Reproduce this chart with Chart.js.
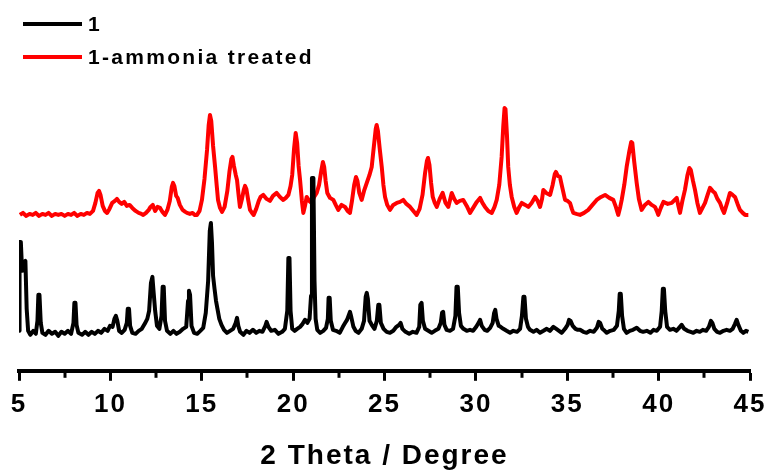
<!DOCTYPE html>
<html>
<head>
<meta charset="utf-8">
<script src="https://cdn.jsdelivr.net/npm/chart.js@4.4.1/dist/chart.umd.min.js"></script>
<style>
  html, body { margin: 0; padding: 0; background: #fff; }
  #wrap { width: 771px; height: 476px; }
</style>
</head>
<body>
<div id="wrap"><canvas id="c" width="771" height="476"></canvas></div>
<script>
// ---- Data (2θ in degrees, intensity in arbitrary units, stacked with offset) ----
const seriesLabels = ["1", "1-ammonia treated"];
const seriesColors = ["#000000", "#ff0000"];

const blackTheta = [5.00,5.03,5.10,5.17,5.25,5.35,5.42,5.50,5.62,5.78,5.92,6.01,6.06,6.12,6.19,6.28,6.45,6.62,6.80,6.98,7.15,7.32,7.50,7.68,7.85,7.98,8.03,8.09,8.15,8.25,8.45,8.62,8.80,8.98,9.15,9.32,9.50,9.68,9.85,9.98,10.12,10.22,10.30,10.38,10.48,10.62,10.78,10.90,10.95,11.02,11.08,11.20,11.38,11.55,11.72,11.88,12.02,12.12,12.22,12.30,12.36,12.45,12.55,12.68,12.80,12.86,12.92,12.99,13.10,13.28,13.45,13.62,13.80,13.98,14.15,14.25,14.30,14.36,14.44,14.58,14.75,14.92,15.08,15.22,15.35,15.44,15.50,15.56,15.62,15.70,15.78,15.86,15.96,16.08,16.22,16.38,16.55,16.72,16.86,16.93,17.00,17.10,17.28,17.45,17.62,17.80,17.98,18.15,18.32,18.48,18.55,18.65,18.80,19.00,19.20,19.40,19.55,19.68,19.74,19.80,19.86,19.95,20.08,20.22,20.38,20.52,20.65,20.78,20.90,20.98,21.03,21.11,21.17,21.23,21.32,21.48,21.65,21.80,21.90,21.94,22.00,22.06,22.18,22.35,22.55,22.72,22.85,22.95,23.05,23.11,23.18,23.30,23.42,23.58,23.75,23.88,23.97,24.03,24.09,24.18,24.30,24.45,24.58,24.66,24.72,24.80,24.95,25.12,25.30,25.48,25.65,25.80,25.88,25.98,26.15,26.35,26.55,26.75,26.90,26.96,27.03,27.10,27.22,27.40,27.58,27.75,27.95,28.08,28.15,28.21,28.28,28.40,28.58,28.75,28.88,28.94,29.01,29.08,29.18,29.32,29.50,29.68,29.85,30.02,30.15,30.23,30.32,30.48,30.62,30.78,30.92,31.00,31.06,31.13,31.25,31.35,31.50,31.68,31.87,32.05,32.25,32.42,32.52,32.60,32.66,32.74,32.85,32.96,33.15,33.32,33.51,33.70,33.88,34.05,34.24,34.40,34.55,34.70,34.88,35.02,35.10,35.18,35.30,35.45,35.58,35.70,35.88,36.06,36.25,36.45,36.62,36.72,36.80,36.92,37.05,37.16,37.35,37.55,37.72,37.82,37.87,37.93,38.00,38.10,38.25,38.42,38.60,38.80,38.98,39.15,39.35,39.55,39.72,39.90,40.08,40.17,40.23,40.29,40.36,40.46,40.62,40.80,40.98,41.12,41.26,41.40,41.58,41.75,41.90,42.08,42.25,42.42,42.60,42.75,42.86,42.94,43.05,43.20,43.36,43.55,43.72,43.90,44.05,44.18,44.27,44.36,44.50,44.63,44.78,44.91];
const blackIntensity = [40,129,129,100,108,110,62,40,36,40,37,50,76,76,48,38,36,40,37,39,35,39,37,40,37,48,68,68,46,38,36,39,36,39,37,40,38,42,40,45,44,52,55,50,40,38,41,48,62,62,45,38,37,40,42,47,52,60,88,94,80,60,45,42,55,84,84,50,40,37,40,37,39,42,44,70,80,76,45,38,37,40,43,58,90,140,148,128,95,82,70,62,52,46,41,38,40,42,48,53,45,39,36,40,38,41,38,40,39,45,49,44,40,41,37,39,42,60,113,113,60,42,40,42,44,47,51,48,52,75,193,193,90,52,41,38,40,43,52,73,73,50,41,40,38,44,48,51,56,59,54,44,40,38,42,50,74,78,72,50,46,42,50,66,66,48,42,39,38,40,44,46,48,42,39,37,39,38,44,66,68,50,42,40,38,40,42,48,58,59,46,41,40,42,55,84,84,58,45,42,40,41,40,44,48,51,45,41,40,43,48,58,61,52,45,44,42,40,38,40,39,42,55,74,74,52,44,41,39,41,38,40,42,40,44,42,40,38,42,46,51,50,45,42,41,41,39,38,40,39,43,49,48,42,40,38,40,41,45,60,77,77,55,42,38,40,41,43,40,39,40,38,41,40,44,60,82,82,60,44,41,42,40,43,46,42,40,39,38,40,39,41,40,44,50,48,42,39,38,40,41,40,42,47,51,46,40,38,40,39];

const redTheta = [5.05,5.22,5.40,5.58,5.75,5.92,6.10,6.28,6.45,6.62,6.80,6.98,7.15,7.32,7.50,7.68,7.85,8.02,8.20,8.38,8.55,8.72,8.88,9.05,9.18,9.30,9.38,9.46,9.58,9.70,9.82,9.95,10.10,10.25,10.36,10.48,10.62,10.76,10.90,11.05,11.20,11.38,11.55,11.70,11.80,11.95,12.10,12.20,12.32,12.45,12.58,12.72,12.85,12.99,13.12,13.25,13.36,13.43,13.50,13.60,13.68,13.80,13.95,14.10,14.19,14.35,14.50,14.62,14.74,14.88,15.01,15.15,15.29,15.38,15.45,15.52,15.62,15.73,15.82,15.89,16.00,16.11,16.25,16.40,16.52,16.62,16.68,16.76,16.86,16.93,17.02,17.09,17.20,17.30,17.37,17.44,17.55,17.64,17.75,17.84,17.98,18.12,18.22,18.37,18.55,18.73,18.90,19.10,19.28,19.46,19.60,19.74,19.86,19.95,20.05,20.14,20.22,20.30,20.38,20.48,20.56,20.65,20.74,20.88,21.01,21.15,21.29,21.42,21.54,21.63,21.70,21.78,21.87,22.02,22.20,22.33,22.47,22.65,22.84,22.98,23.11,23.22,23.34,23.44,23.52,23.62,23.75,23.88,24.03,24.18,24.30,24.42,24.52,24.57,24.64,24.74,24.85,24.94,25.03,25.15,25.30,25.48,25.67,25.85,26.03,26.20,26.40,26.58,26.76,26.92,27.08,27.22,27.32,27.38,27.46,27.55,27.64,27.75,27.86,28.02,28.18,28.34,28.49,28.60,28.68,28.82,28.95,29.12,29.31,29.50,29.68,29.85,30.05,30.23,30.36,30.50,30.68,30.87,31.02,31.14,31.28,31.41,31.50,31.57,31.62,31.70,31.77,31.86,31.96,32.10,32.23,32.38,32.51,32.70,32.87,33.05,33.24,33.38,33.51,33.62,33.69,33.85,34.06,34.20,34.32,34.38,34.48,34.60,34.72,34.88,35.02,35.15,35.25,35.33,35.50,35.70,35.92,36.15,36.38,36.61,36.85,37.07,37.30,37.52,37.66,37.79,37.90,37.98,38.12,38.25,38.40,38.50,38.56,38.66,38.80,38.92,39.07,39.25,39.44,39.62,39.80,39.90,39.98,40.12,40.26,40.50,40.72,40.88,40.99,41.08,41.17,41.30,41.44,41.58,41.68,41.76,41.88,41.99,42.12,42.26,42.40,42.54,42.68,42.81,42.95,43.08,43.22,43.36,43.48,43.58,43.75,43.90,44.05,44.18,44.32,44.45,44.60,44.73,44.91];
const redIntensity = [156,158,155,157,156,158,155,157,156,158,155,157,156,157,155,157,156,158,155,157,156,158,157,160,168,178,180,176,165,160,158,162,168,170,172,169,167,169,165,166,163,160,158,157,156,158,161,164,166,160,164,163,159,156,161,170,184,188,185,175,173,166,161,159,158,157,158,156,156,160,171,192,221,246,256,250,225,204,185,171,163,159,164,180,200,212,214,205,196,191,175,164,172,181,185,182,170,161,158,156,162,170,174,176,172,170,175,178,174,171,173,176,185,196,222,238,228,205,191,170,158,165,174,170,168,174,178,186,200,209,204,190,178,173,171,166,161,166,164,160,158,170,186,194,190,178,171,180,188,196,204,225,242,246,240,222,204,186,174,166,161,166,168,169,171,167,164,160,156,162,176,198,210,213,206,188,174,168,164,172,178,168,164,172,178,172,168,170,171,165,158,163,169,173,168,164,160,158,164,171,186,214,245,263,262,236,204,186,174,164,158,164,168,166,164,168,174,170,164,172,181,178,176,186,197,199,195,194,184,171,170,168,162,158,157,156,158,161,166,171,174,176,173,171,164,156,164,171,186,204,220,229,228,210,188,172,161,166,169,166,164,160,156,163,169,167,168,171,173,165,158,170,181,196,203,201,190,181,168,158,163,168,176,183,180,178,172,168,162,158,168,178,176,174,167,161,158,156,156];

const xMin = 5, xMax = 45;
const majorTicks = [5,10,15,20,25,30,35,40,45];
const minorTicks = [7.5,12.5,17.5,22.5,27.5,32.5,37.5,42.5];
const xTitle = "2 Theta / Degree";

const FONT = '"Liberation Sans", Arial, Helvetica, sans-serif';

function pairs(xs, ys) { return xs.map((x, i) => ({ x: x, y: ys[i] })); }

const spacingPlugin = {
  id: 'spacing',
  beforeDraw(chart) { chart.ctx.letterSpacing = '2px'; }
};

const minorTickPlugin = {
  id: 'minorTicks',
  afterDraw(chart) {
    const ctx = chart.ctx, sx = chart.scales.x, bottom = chart.chartArea.bottom;
    ctx.save();
    ctx.strokeStyle = '#000';
    ctx.lineWidth = 3;
    minorTicks.forEach(v => {
      const px = Math.round(sx.getPixelForValue(v));
      ctx.beginPath();
      ctx.moveTo(px, bottom);
      ctx.lineTo(px, bottom + 7);
      ctx.stroke();
    });
    ctx.restore();
  }
};

const legendPlugin = {
  id: 'customLegend',
  afterDraw(chart) {
    const ctx = chart.ctx;
    ctx.save();
    ctx.letterSpacing = '2.3px';
    ctx.font = 'bold 21px ' + FONT;
    ctx.textBaseline = 'middle';
    ctx.textAlign = 'left';
    const rows = [24, 57];
    chart.data.datasets.forEach((ds, i) => {
      const y = rows[i];
      ctx.strokeStyle = ds.borderColor;
      ctx.lineWidth = 4;
      ctx.beginPath();
      ctx.moveTo(23, y);
      ctx.lineTo(82, y);
      ctx.stroke();
      ctx.fillStyle = '#000';
      ctx.fillText(ds.label, 88, y + 1);
    });
    ctx.restore();
  }
};

new Chart(document.getElementById('c'), {
  type: 'line',
  data: {
    datasets: [
      { label: seriesLabels[0], data: pairs(blackTheta, blackIntensity), borderColor: seriesColors[0], borderWidth: 4, pointRadius: 0, tension: 0, borderJoinStyle: 'round', fill: false },
      { label: seriesLabels[1], data: pairs(redTheta, redIntensity), borderColor: seriesColors[1], borderWidth: 4, pointRadius: 0, tension: 0, borderJoinStyle: 'round', fill: false }
    ]
  },
  options: {
    responsive: false,
    devicePixelRatio: 1,
    animation: false,
    parsing: true,
    layout: { padding: { left: 19, right: 21, top: 71, bottom: 0 } },
    plugins: { legend: { display: false }, tooltip: { enabled: false } },
    scales: {
      x: {
        type: 'linear',
        min: xMin, max: xMax,
        afterBuildTicks(scale) { scale.ticks = majorTicks.map(v => ({ value: v })); },
        ticks: { color: '#000', font: { family: FONT, size: 26, weight: 'bold', lineHeight: 1.6 }, padding: 3, maxRotation: 0, autoSkip: false },
        grid: { display: true, drawOnChartArea: false, drawTicks: true, tickLength: 10, tickWidth: 3, tickColor: '#000', color: '#000' },
        border: { display: true, color: '#000', width: 4 },
        title: { display: true, text: xTitle, color: '#000', font: { family: FONT, size: 28, weight: 'bold' }, padding: { top: 11, bottom: 3 } }
      },
      y: { display: false, min: 0, max: 300 }
    }
  },
  plugins: [spacingPlugin, minorTickPlugin, legendPlugin]
});
</script>
</body>
</html>
